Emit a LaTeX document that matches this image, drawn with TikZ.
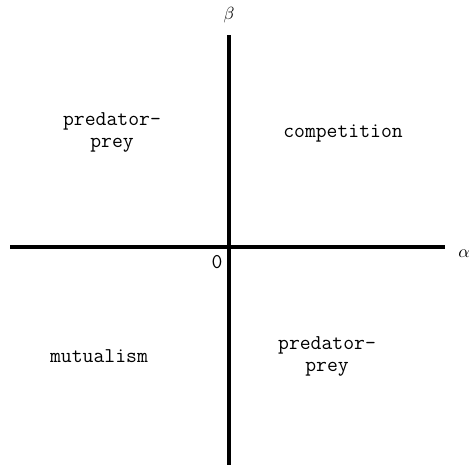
\documentclass[tikz,border=0pt]{standalone}
\usepackage{amsmath, amssymb}
\usepackage{tikz}
\usetikzlibrary{calc,positioning}

\tikzset{
  axisline/.style={line width=2.3pt, black},
  region/.style={font=\fontsize{12}{12.5}\selectfont\ttfamily, align=center, inner sep=0pt}
}

\begin{document}
\begin{tikzpicture}[x=0.02cm, y=-0.02cm]
            \useasboundingbox (0,0) rectangle (469,465);
            % Define points
            \coordinate (O) at (229,247);
            \coordinate (T) at (229,35);
            \coordinate (B) at (229,466);
            \coordinate (L) at (10,247);
            \coordinate (R) at (445,247);
            % Draw axes
            \draw[axisline] (B) -- (T);
            \draw[axisline, line width=1.9pt] (L) -- (R);
            % Axis labels
            \node (beta) at (229,15) {$\beta$};
            \node (alpha) at (464,254) {$\alpha$};
            \node[region] (zero) at (217,262) {0};
            % Label the regions
            \node[region] (predTL) at (112,132) {predator-\\prey};
            \node[region] (comp) at (343,134) {competition};
            \node[region] (mutu) at (99,356) {mutualism};
            \node[region] (predBR) at (327,356) {predator-\\prey};
          \end{tikzpicture}
\end{document}
